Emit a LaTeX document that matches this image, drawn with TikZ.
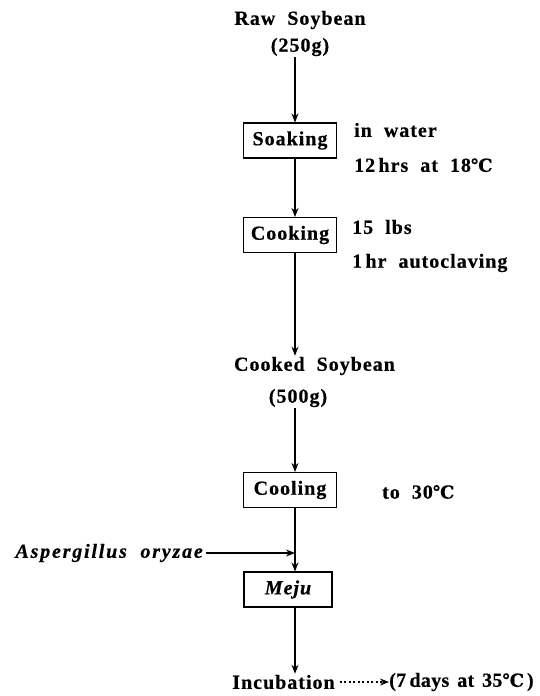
\documentclass[tikz,border=0pt]{standalone}
\usepackage{fontspec}
\setmainfont{Liberation Serif}[LetterSpace=5,WordSpace=2.0,BoldFeatures={FakeBold=0.5},BoldItalicFeatures={FakeBold=0.5}]
\newfontfamily\tightfam{Liberation Serif}[LetterSpace=1.5,WordSpace=1.5,BoldFeatures={FakeBold=0.5}]
\newfontfamily\dv{DejaVu Serif}[BoldFeatures={FakeBold=0.3}]
\usetikzlibrary{arrows.meta}
\newcommand{\degC}{{\dv\fontsize{18}{20}\selectfont ℃}}
\begin{document}
\begin{tikzpicture}[x=1pt,y=-1pt,
  every node/.style={font=\fontsize{20}{22}\selectfont\bfseries, inner sep=1pt},
  stepbox/.style={draw, line width=1.1pt, minimum width=93pt, minimum height=35pt, inner sep=0pt},
  arr/.style={line width=1.1pt, -{Stealth[length=9pt,width=7pt]}},
  note/.style={anchor=west}]
\useasboundingbox (0,0) rectangle (540,696);
\coordinate (ax) at (295,0);
% nodes
\node (raw) at (300,20) {Raw Soybean};
\node (p250) at (300,47) {(250g)};
\node[stepbox] (soak) at (290,140.5) {Soaking};
\node[note] (n1) at (353,130) {in water};
\node[note] (n2) at (353,165) {12\,hrs at 18\degC};
\node[stepbox] (cook) at (290,235) {Cooking};
\node[note] (n3) at (351,227) {15 lbs};
\node[note] (n4) at (351,263) {1\,hr autoclaving};
\node (cooked) at (314.5,366) {Cooked Soybean};
\node (p500) at (298,398) {(500g)};
\node[stepbox] (cool) at (290,490) {Cooling};
\node[note] (n5) at (381,492) {to 30\degC};
\node[anchor=east] (asp) at (204,553) {\itshape\addfontfeature{LetterSpace=9}Aspergillus oryzae};
\coordinate (j) at (ax |- asp);
\node[stepbox, minimum width=88pt] (meju) at (288,589.5) {\itshape Meju};
\node (inc) at (283.5,682) {Incubation};
\node[anchor=west, inner sep=0pt] (days) at (389,682) {\tightfam\bfseries(7\,days at 35\degC\kern3pt)};
% connectors
\draw[arr] (p250.south -| ax) -- (soak.north -| ax);
\draw[arr] (soak.south -| ax) -- (cook.north -| ax);
\draw[arr] (cook.south -| ax) -- (cooked.north -| ax);
\draw[arr] (p500.south -| ax) -- (cool.north -| ax);
\draw[line width=1.1pt] (cool.south -| ax) -- (j);
\draw[arr] (j) -- (meju.north -| ax);
\draw[arr, shorten <=2pt] (asp.east) -- (j);
\draw[arr] (meju.south -| ax) -- (inc.north -| ax);
\draw[line width=1.1pt, dash pattern=on 2pt off 2.5pt, -{Stealth[length=9pt,width=7pt]}] (inc.east) ++(4,0) -- (days.west);
\end{tikzpicture}
\end{document}
